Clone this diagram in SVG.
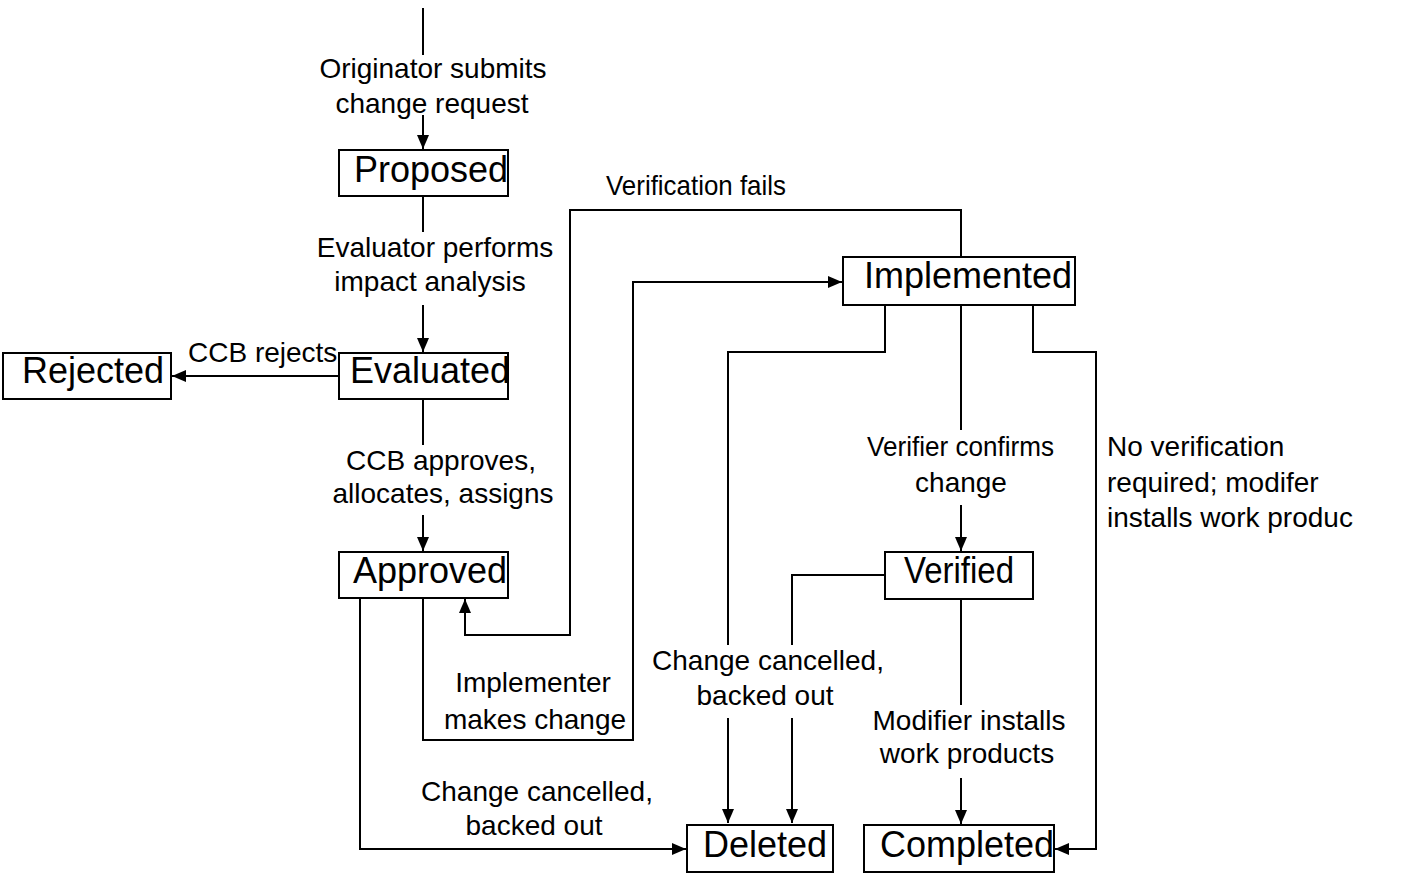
<svg xmlns="http://www.w3.org/2000/svg" width="1417" height="893" viewBox="0 0 1417 893">
<style>
.box{fill:#fff;stroke:#000;stroke-width:2}
.nt{font-family:"Liberation Sans",Arial,sans-serif;font-size:36px;fill:#000}
.lb{font-family:"Liberation Sans",Arial,sans-serif;font-size:28px;fill:#000}
.c{text-anchor:middle}
.ln{fill:none;stroke:#000;stroke-width:2}
</style>
<defs>
<marker id="ah" viewBox="0 0 14 12" refX="14" refY="6" markerWidth="14" markerHeight="12" markerUnits="userSpaceOnUse" orient="auto">
<path d="M0,0 L14,6 L0,12 Z" fill="#000"/>
</marker>
</defs>
<rect width="1417" height="893" fill="#fff"/>
<g id="connectors">
<path class="ln" d="M423,8 V55"/>
<path class="ln" d="M423,115 V149" marker-end="url(#ah)"/>
<path class="ln" d="M423,196 V232"/>
<path class="ln" d="M423,305 V352" marker-end="url(#ah)"/>
<path class="ln" d="M339,376 H172" marker-end="url(#ah)"/>
<path class="ln" d="M423,399 V445"/>
<path class="ln" d="M423,515 V551" marker-end="url(#ah)"/>
<path class="ln" d="M360,598 V849 H686" marker-end="url(#ah)"/>
<path class="ln" d="M423,598 V740 H633 V282 H842" marker-end="url(#ah)"/>
<path class="ln" d="M961,257 V210 H570 V635 H465 V599" marker-end="url(#ah)"/>
<path class="ln" d="M885,305 V352 H728 V645"/>
<path class="ln" d="M728,718 V823" marker-end="url(#ah)"/>
<path class="ln" d="M885,575 H792 V645"/>
<path class="ln" d="M792,718 V823" marker-end="url(#ah)"/>
<path class="ln" d="M961,305 V430"/>
<path class="ln" d="M961,505 V551" marker-end="url(#ah)"/>
<path class="ln" d="M1033,305 V352 H1096 V849 H1055" marker-end="url(#ah)"/>
<path class="ln" d="M961,599 V705"/>
<path class="ln" d="M961,778 V824" marker-end="url(#ah)"/>
</g>
<g id="labels">
<text class="lb c" x="433" y="78">Originator submits</text>
<text class="lb c" x="432" y="113">change request</text>
<text class="lb c" x="435" y="257">Evaluator performs</text>
<text class="lb c" x="430" y="291">impact analysis</text>
<text class="lb" x="188" y="362">CCB rejects</text>
<text class="lb c" x="441" y="470">CCB approves,</text>
<text class="lb c" x="443" y="503">allocates, assigns</text>
<text class="lb" x="606" y="195" textLength="180" lengthAdjust="spacingAndGlyphs">Verification fails</text>
<text class="lb c" x="533" y="692">Implementer</text>
<text class="lb c" x="535" y="729">makes change</text>
<text class="lb c" x="537" y="801">Change cancelled,</text>
<text class="lb c" x="534" y="835">backed out</text>
<text class="lb c" x="768" y="670">Change cancelled,</text>
<text class="lb c" x="765" y="705">backed out</text>
<text class="lb" x="867" y="456" textLength="187" lengthAdjust="spacingAndGlyphs">Verifier confirms</text>
<text class="lb c" x="961" y="492">change</text>
<text class="lb c" x="969" y="730">Modifier installs</text>
<text class="lb c" x="967" y="763">work products</text>
<text class="lb" x="1107" y="456">No verification</text>
<text class="lb" x="1107" y="492">required; modifer</text>
<text class="lb" x="1107" y="527">installs work produc</text>
</g>
<g id="proposed"><rect class="box" x="339" y="150" width="169" height="46"/><text class="nt" x="354" y="182">Proposed</text></g>
<g id="evaluated"><rect class="box" x="339" y="353" width="169" height="46"/><text class="nt" x="350" y="383">Evaluated</text></g>
<g id="rejected"><rect class="box" x="3" y="353" width="168" height="46"/><text class="nt" x="22" y="383">Rejected</text></g>
<g id="approved"><rect class="box" x="339" y="552" width="169" height="46"/><text class="nt" x="353" y="583">Approved</text></g>
<g id="implemented"><rect class="box" x="843" y="257" width="232" height="48"/><text class="nt" x="864" y="288">Implemented</text></g>
<g id="verified"><rect class="box" x="885" y="552" width="148" height="47"/><text class="nt" x="904" y="583" textLength="110" lengthAdjust="spacingAndGlyphs">Verified</text></g>
<g id="deleted"><rect class="box" x="687" y="825" width="146" height="47"/><text class="nt" x="703" y="857">Deleted</text></g>
<g id="completed"><rect class="box" x="864" y="825" width="190" height="47"/><text class="nt" x="880" y="857">Completed</text></g>
</svg>
